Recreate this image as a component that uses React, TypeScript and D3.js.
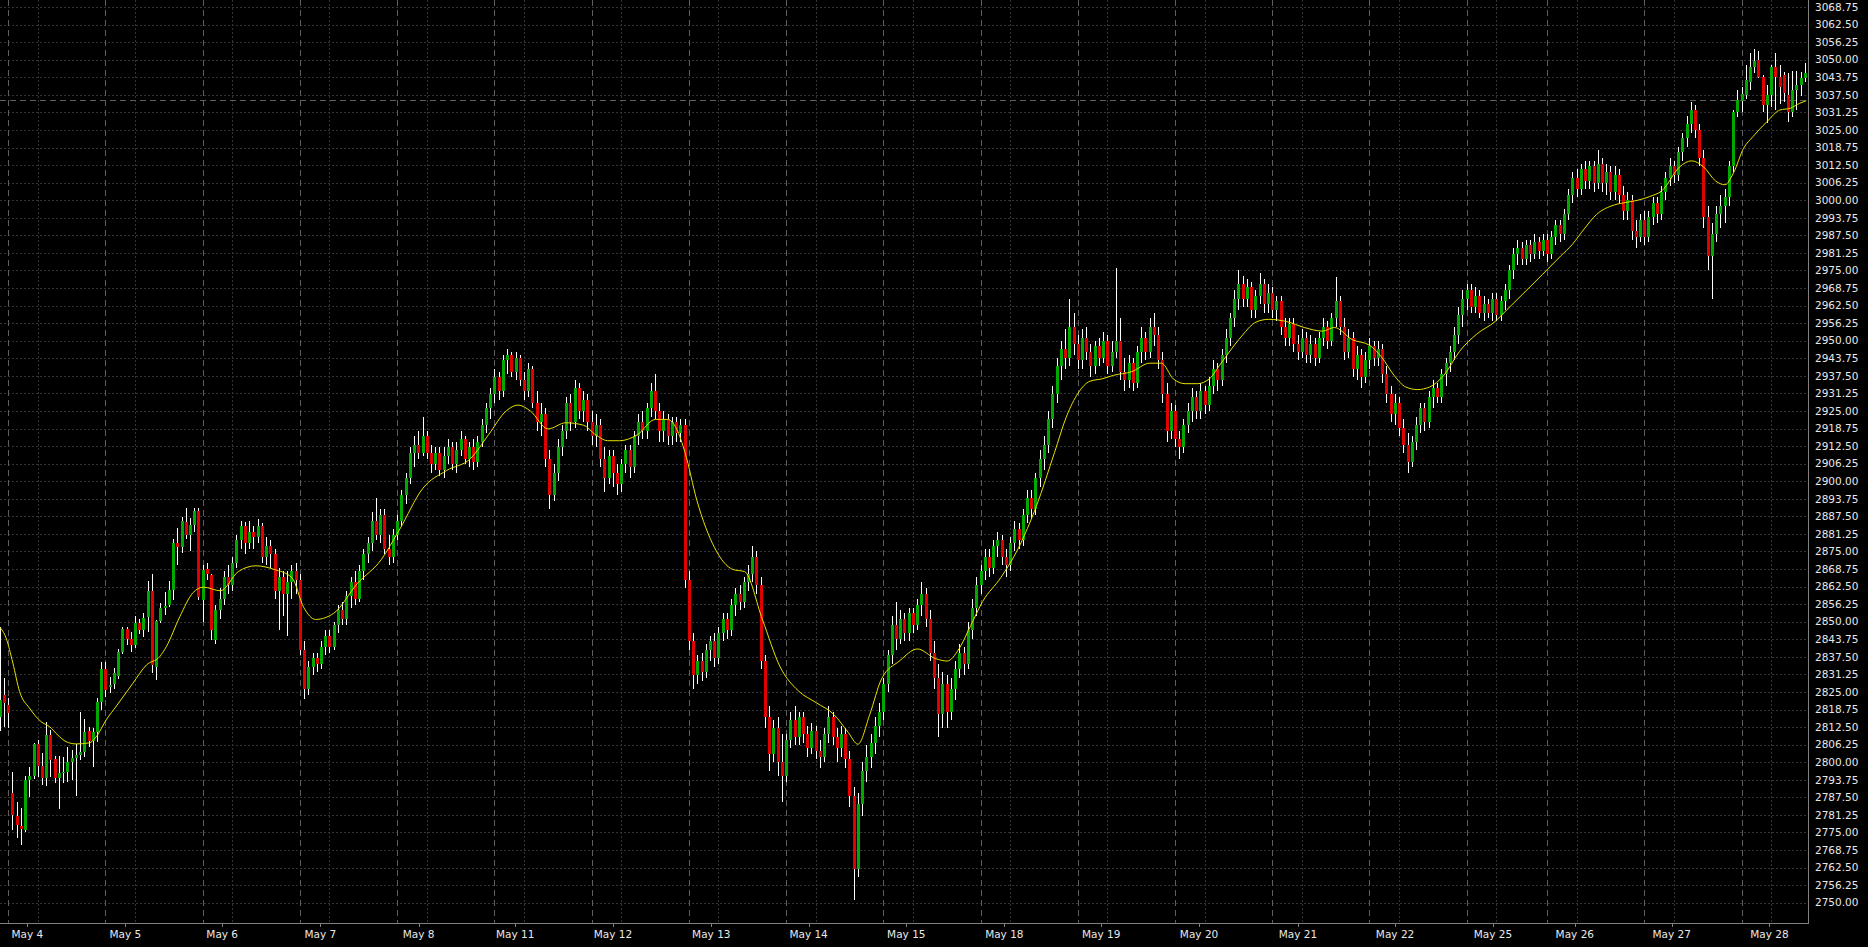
import React, { useEffect } from 'react';
import * as d3 from 'd3';

const dayLabels = ['May 4','May 5','May 6','May 7','May 8','May 11','May 12','May 13','May 14','May 15','May 18','May 19','May 20','May 21','May 22','May 25','May 26','May 27','May 28'];
const dayStartBars = [0,23,46,69,92,115,138,161,184,207,230,253,276,299,322,345,364,387,410];
const labelBars = [4.52,27.70,50.62,73.83,97.07,119.93,143.04,166.32,189.33,212.44,235.63,258.55,281.69,305.10,328.05,351.22,370.57,393.49,416.61];
const gridOffsetBars = 7;
const priceTicks = [2750.00,2756.25,2762.50,2768.75,2775.00,2781.25,2787.50,2793.75,2800.00,2806.25,2812.50,2818.75,2825.00,2831.25,2837.50,2843.75,2850.00,2856.25,2862.50,2868.75,2875.00,2881.25,2887.50,2893.75,2900.00,2906.25,2912.50,2918.75,2925.00,2931.25,2937.50,2943.75,2950.00,2956.25,2962.50,2968.75,2975.00,2981.25,2987.50,2993.75,3000.00,3006.25,3012.50,3018.75,3025.00,3031.25,3037.50,3043.75,3050.00,3056.25,3062.50,3068.75];
const levelPrice = 3035.55;

const firstBarIndex = -2;
const opens = [
  2816,2824,2820.5,2789,2781,2777.3,2776,2793.7,2795,2806.5,2798.6,2794.4,2809.7,2801,2794.4,2796.2,2796.5,2800.1,2801.5,2802.6,2803.6,2811,2807.5,2810.7,2821.4,
  2833.2,2826.6,2827.8,2830.8,2839.3,2847.3,2844,2841.7,2849.4,2847.1,2851.8,2860.9,2834,2850.3,2855,2856,2861.3,2877.9,2876.7,2885.6,2880.8,2884.4,2889.4,
  2857.7,2868.6,2866.6,2843.5,2854,2858,2866,2863,2871,2879,2884,2878,2882,2880,2884,2873,2877,2874,2861,2866,2860,2864,2868,
  2865,2840,2826,2834,2837,2835,2841,2845,2841,2849,2854,2851,2859,2864,2858,2868,2874,2878,2886,2881,2888,2876,2873,
  2881,2886,2895,2901,2910,2913,2910,2916,2910,2906,2910,2904,2909,2912,2906,2911,2915,2908,2912,2907,2914,2920,2926,
  2931,2937,2932,2943,2945,2939,2944,2936,2932,2940,2928,2921,2924,2908,2895,2903,2912,2918,2928,2921,2933,2925,2929,
  2921,2916,2920,2908,2901,2909,2903,2899,2906,2911,2905,2916,2921,2918,2926,2932,2925,2918,2922,2916,2921,2917,2920,
  2865,2843,2831,2836,2832,2840,2843,2837,2846,2851,2847,2856,2860,2857,2864,2867,2873,2863,2836,2816,2803,2812,2800,
  2795,2808,2815,2809,2816,2810,2805,2811,2804,2802,2810,2816,2809,2805,2810,2801,2788,2762,2785,2797,2802,2807,2813,
  2818,2828,2838,2849,2844,2851,2846,2853,2849,2856,2860,2851,2839,2830,2817,2828,2818,2826,2833,2839,2835,2847,2855,
  2863,2868,2873,2869,2877,2879,2873,2870,2878,2883,2879,2888,2894,2890,2901,2908,2913,2922,2931,2941,2947,2944,2955,
  2949,2943,2951,2946,2941,2948,2944,2950,2941,2946,2950,2939,2936,2942,2935,2946,2951,2946,2955,2952,2943,2931,2918,
  2925,2915,2912,2920,2925,2930,2925,2932,2927,2934,2940,2936,2945,2951,2958,2965,2970,2965,2969,2961,2966,2970,2963,
  2967,2961,2964,2955,2951,2956,2949,2946,2951,2945,2949,2944,2951,2955,2950,2958,2964,2955,2946,2951,2940,2945,2937,
  2943,2948,2944,2947,2938,2931,2924,2928,2919,2913,2907,2914,2920,2926,2921,2930,2933,2930,2938,2942,2946,2952,2959,
  2965,2968,2962,2966,2960,2963,2960,2965,2959,2964,2968,2975,2981,2983,2979,2984,2981,2985,2982,
  2986,2981,2987,2991,2988,2995,3002,3008,3004,3011,3007,3012,3006,3013,3006,3010,3003,3009,3002,2996,3000,2989,2987,
  2993,2987,2994,2999,2995,3003,3008,3012,3009,3017,3022,3027,3032,3025,3015,2994,2980,2988,2995,2998,3001,3012,3031.5,
  3035.4,3037.4,3042.2,3047.5,3049.9,3044,3033.9,3037.4,3047.5,3044,3044.6,3037.4,3031.5,3039.2,3040.9,3043.6
];
const highs = [
  2848,2830,2823,2796.5,2785.9,2783.7,2795.1,2798.4,2807,2807.9,2803.3,2814.4,2811.5,2802.2,2802.2,2801.9,2805.5,2804.3,2806.5,2817.7,2815.4,2812.6,2812.2,2822.7,2835.8,
  2835.8,2830.4,2833.5,2840.4,2848.2,2848.2,2846.4,2852,2851,2853,2864.6,2866.8,2850.6,2856.6,2860.5,2864.4,2879.5,2883.5,2887.4,2890.5,2887,2890.5,2890.5,
  2870,2871,2867,2856,2862,2868,2870,2873,2881,2886,2885.5,2886,2884,2886.5,2885,2880,2879,2876,2869,2868,2868,2870,2871,
  2867,2843,2836,2839,2839,2843,2847,2847,2850,2856,2857,2861,2866,2868,2870,2876,2880,2889,2894,2890,2890,2881,2883,
  2888,2897,2903,2912,2916,2918,2923,2918,2913,2912,2912,2912,2915,2914,2914,2918,2916,2914,2915,2916,2922,2928,2933,
  2940,2939,2945,2947,2946,2946,2945,2939,2942,2941,2932,2928,2926,2911,2906,2915,2920,2930,2931,2936,2935,2932,2931,
  2925,2924,2922,2912,2911,2911,2906,2908,2913,2913,2918,2924,2925,2928,2935,2938,2928,2925,2924,2923,2923,2922,2922,
  2868,2846,2838,2839,2842,2845,2846,2848,2853,2853,2858,2862,2863,2866,2870,2877,2875,2866,2838,2820,2815,2816,2810,
  2810,2818,2820,2818,2818,2813,2814,2813,2808,2812,2820,2818,2812,2813,2812,2804,2791,2789,2800,2806,2810,2816,2821,
  2830,2840,2852,2857,2854,2853,2855,2855,2858,2864,2862,2854,2843,2835,2832,2831,2830,2836,2842,2841,2850,2858,2866,
  2870,2876,2876,2879,2882,2881,2876,2880,2886,2885,2890,2897,2897,2903,2911,2916,2925,2934,2944,2950,2954,2965,2960,
  2952,2954,2955,2949,2950,2951,2953,2952,2950,2976,2958,2944,2945,2944,2948,2955,2953,2958,2960,2955,2946,2935,2928,
  2927,2918,2922,2928,2933,2932,2935,2934,2937,2943,2942,2947,2954,2960,2968,2975,2973,2972,2971,2968,2974,2972,2970,
  2969,2966,2966,2958,2958,2958,2952,2954,2953,2952,2951,2953,2958,2957,2960,2972.5,2966,2958,2954,2953,2948,2947,2946,
  2951,2950,2950,2949,2941,2934,2931,2930,2922,2917,2916,2923,2928,2928,2932,2936,2935,2940,2944,2948,2955,2962,2968,
  2970,2970,2969,2968,2966,2965,2967,2967,2966,2970,2977,2983,2986,2985,2986,2986,2988,2987,2988,
  2988,2989,2993,2993,2997,3004,3010,3011,3013,3014,3014,3014,3018,3015,3013,3012,3012,3011,3005,3003,3002,2993,2995,
  2996,2996,3001,3001,3005,3010,3015,3014,3019,3024,3030,3035,3034,3027,3018,2998,2992,2998,3002,3004,3014,3032,3039.2,
  3040.4,3048.1,3052.3,3053.7,3053.1,3044.6,3041,3048.1,3052.3,3048.1,3045.5,3045.3,3045.8,3045.8,3045.5,3048.7
];
const lows = [
  2811,2812.5,2812,2775.9,2773,2770.5,2775.3,2787.7,2794,2794.9,2791.9,2791.6,2794.9,2792.5,2783.4,2792.5,2793.1,2793.7,2788.1,2800.8,2801.9,2805.5,2798.3,2807.3,2818.6,
  2823.2,2824.5,2826,2829.5,2838.5,2841.7,2839.1,2840.6,2845.6,2844.5,2846.3,2831.6,2829.4,2849.4,2852.4,2855.2,2857.6,2870.1,2874.3,2879.5,2875.2,2882,2857.6,
  2850,2865,2843.5,2842,2851,2856,2860,2861,2869,2876,2874,2876,2876,2878,2871,2870,2869,2858,2847,2852,2845,2858,2860,
  2838,2822.5,2824,2831,2832,2833,2838,2839,2840,2846,2849,2849,2855,2856,2857,2865,2871,2875,2879,2878,2874,2870,2871,
  2879,2884,2892,2899,2905,2908,2909,2908,2903,2904,2902,2901,2906,2904,2903,2909,2906,2905,2904,2905,2912,2917,2922,
  2928,2929,2930,2938,2937,2936,2934,2929,2930,2926,2918,2916,2905,2890,2893,2900,2909,2915,2918,2919,2922,2921,2918,
  2913,2912,2905,2896,2899,2898,2895,2896,2903,2901,2903,2913,2915,2915,2923,2922,2914,2914,2913,2913,2914,2914,2862,
  2840,2826,2828,2829,2830,2836,2834,2835,2843,2844,2845,2852,2854,2855,2861,2864,2860,2833,2812,2797,2800,2795,2786,
  2793,2805,2806,2806,2807,2802,2803,2801,2798,2800,2807,2806,2800,2802,2798,2784,2751,2759,2781,2793,2798,2803,2809,
  2815,2825,2835,2840,2842,2843,2843,2846,2847,2852,2848,2836,2826,2809,2812,2812,2815,2822,2830,2831,2833,2844,2852,
  2860,2865,2866,2867,2873,2870,2866,2868,2875,2876,2877,2885,2887,2888,2898,2904,2910,2919,2928,2936,2940,2941,2945,
  2940,2940,2943,2937,2938,2941,2942,2938,2939,2944,2936,2932,2933,2932,2933,2942,2943,2944,2948,2940,2928,2914,2915,
  2912,2908,2910,2917,2921,2922,2922,2924,2925,2931,2932,2934,2942,2948,2955,2961,2962,2962,2958,2958,2963,2960,2960,
  2958,2957,2952,2948,2948,2946,2943,2944,2942,2942,2941,2942,2948,2947,2948,2955,2952,2943,2944,2937,2936,2933,2935,
  2940,2941,2941,2935,2928,2921,2920,2916,2910,2903,2905,2911,2917,2918,2919,2926,2928,2928,2934,2939,2943,2949,2955,
  2961,2960,2960,2958,2957,2958,2957,2957,2957,2961,2965,2972,2977,2977,2977,2978,2979,2979,2980,
  2978,2979,2984,2985,2986,2993,2999,3001,3002,3004,3004,3003,3004,3003,3002,3000,3000,2999,2993,2993,2986,2983,2985,
  2984,2985,2991,2992,2993,3000,3005,3006,3007,3014,3019,3024,3022,3012,2990,2975,2965,2985,2990,2992,2998,3010,3029.7,
  3031.5,3036,3039.2,3045.2,3043.4,3031.5,3027.4,3033.3,3032.1,3034.4,3035,3027.9,3029.7,3032.1,3037,3042.2
];
const closes = [
  2822,2821,2817.5,2781.2,2777.6,2776.2,2793.7,2795.1,2806.5,2798.6,2794.4,2809.7,2800.8,2794.4,2796.2,2796.5,2800.1,2801.5,2802.6,2803.6,2810.7,2807.5,2810.7,2821.4,2833.2,
  2825.7,2827.5,2831.6,2839.3,2847.3,2843.8,2841.7,2849.4,2847.1,2851.4,2860.9,2834.6,2850.2,2854.7,2855.7,2861.3,2877.9,2876.7,2885.8,2880.8,2884.4,2889.4,2858.9,
  2868.4,2866.8,2847,2854.1,2858,2866,2863,2871,2879,2884,2878,2882,2880,2884,2873,2877,2874,2861,2866,2860,2864,2868,2865,
  2840,2826,2834,2837,2835,2841,2845,2841,2849,2854,2851,2859,2864,2858,2868,2874,2878,2886,2881,2888,2876,2873,2881,
  2886,2895,2901,2910,2913,2910,2916,2910,2906,2910,2904,2909,2912,2906,2911,2915,2908,2912,2907,2914,2920,2926,2931,
  2937,2932,2943,2945,2939,2944,2936,2932,2940,2928,2921,2924,2908,2895,2903,2912,2918,2928,2921,2933,2925,2929,2921,
  2916,2920,2908,2901,2909,2903,2899,2906,2911,2905,2916,2921,2918,2926,2932,2925,2918,2922,2916,2921,2917,2920,2865,
  2843,2831,2836,2832,2840,2843,2837,2846,2851,2847,2856,2860,2857,2864,2867,2873,2863,2836,2816,2803,2812,2800,2795,
  2808,2815,2809,2816,2810,2805,2811,2804,2802,2810,2816,2809,2805,2810,2801,2788,2762,2785,2797,2802,2807,2813,2818,
  2828,2838,2849,2844,2851,2846,2853,2849,2856,2860,2851,2839,2830,2817,2828,2818,2826,2833,2839,2835,2847,2855,2863,
  2868,2873,2869,2877,2879,2873,2870,2878,2883,2879,2888,2894,2890,2901,2908,2913,2922,2931,2941,2947,2944,2955,2949,
  2943,2951,2946,2941,2948,2944,2950,2941,2946,2950,2939,2936,2942,2935,2946,2951,2946,2955,2952,2943,2931,2918,2925,
  2915,2912,2920,2925,2930,2925,2932,2927,2934,2940,2936,2945,2951,2958,2965,2970,2965,2969,2961,2966,2970,2963,2967,
  2961,2964,2955,2951,2956,2949,2946,2951,2945,2949,2944,2951,2955,2950,2958,2964,2955,2946,2951,2940,2945,2937,2943,
  2948,2944,2947,2938,2931,2924,2928,2919,2913,2907,2914,2920,2926,2921,2930,2933,2930,2938,2942,2946,2952,2959,2965,
  2968,2962,2966,2960,2963,2960,2965,2959,2964,2968,2975,2981,2983,2979,2984,2981,2985,2982,2986,
  2981,2987,2991,2988,2995,3002,3008,3004,3011,3007,3012,3006,3013,3006,3010,3003,3009,3002,2996,3000,2989,2987,2993,
  2987,2994,2999,2995,3003,3008,3012,3009,3017,3022,3027,3032,3025,3015,2994,2980,2988,2995,2998,3001,3012,3031.5,3035.7,
  3037.7,3042.8,3047.5,3049.4,3044,3033.9,3037.4,3047.5,3044,3040.4,3038,3031.5,3039.2,3040.9,3043.6,3045.2
];

const maBars = [-2.06,-0.5,1.1,2.7,5,7.8,9.8,11.7,13.7,16.1,19.2,20.8,23.2,25.6,29.5,32.7,35.8,37.4,40.6,43.7,46.2,50.2,54.4,58.6,62.9,67.1,69.9,72.7,77.0,82.6,88.2,92.5,98.1,103.7,109.4,113.6,117.8,120.6,123.5,127.7,131.9,136.1,139.0,141.8,144.6,148.8,153.1,155.9,158.1,160.1,162.9,167.1,171.4,174.2,178.4,182.6,186.9,191.1,195.3,198.7,201.0,203.8,206.6,210.8,215.1,219.3,222.1,224.9,227.7,230.5,234.8,239.0,243.2,247.5,250.3,253.1,255.9,258.7,261.5,265.8,270.0,272.8,275.6,278.4,281.3,284.1,286.9,291.1,295.4,298.2,302.4,306.6,310.9,313.7,317.9,322.1,324.9,327.8,330.6,333.4,336.2,339.6,343.3,347.5,351.7,354.5,358.8,363.0,367.2,370.0,372.8,375.7,379.9,382.7,385.5,388.3,391.2,395.4,398.2,401.0,403.9,406.1,408.1,410.5,412.7,416.0,419.1,421.5,423.8,425.3];
const maValues = [2848.2,2844.2,2835.3,2825.1,2819.3,2814.4,2812.6,2809.7,2807.3,2806.5,2806.9,2809,2815.1,2820,2828.1,2834.6,2837.5,2841.1,2851.8,2860.3,2862.3,2861.0,2867.8,2869.9,2868.6,2865.7,2855.1,2850.8,2853.0,2863.6,2872.0,2882.6,2897.5,2903.8,2908.1,2916.5,2925.0,2927.1,2925.0,2918.6,2920.8,2919.9,2916.5,2914.4,2914.4,2916.5,2922.0,2922.0,2918.6,2910.2,2893.2,2876.3,2868.6,2867.8,2850.8,2833.9,2825.4,2821.2,2817.0,2810.6,2806.4,2817.0,2829.7,2836.0,2840.3,2836.9,2836.0,2840.3,2848.7,2857.2,2865.7,2876.3,2891.1,2910.2,2922.9,2931.4,2935.6,2936.4,2937.7,2939.0,2942.0,2942.0,2936.4,2934.7,2934.7,2936.4,2942.0,2950.4,2956.8,2957.6,2956.8,2954.7,2953.4,2954.7,2950.4,2948.3,2944.1,2937.7,2933.5,2932.6,2933.5,2937.7,2946.2,2952.5,2956.8,2961.0,2967.4,2973.7,2980.1,2984.3,2989.8,2994.9,2998.3,2999.2,3000.0,3001.3,3003.4,3011.9,3014.0,3011.9,3006.8,3005.5,3009.7,3018.5,3022.6,3027.9,3032.1,3032.7,3034.5,3035.4];

const W = 1868, H = 947;
const plotRight = 1808, plotBottom = 923;
const BULL = '#00a800', BEAR = '#e00000', WICK = '#ffffff', MA = '#e8e000';
const GRID = '#333333', SEP = '#5e5e5e', AXIS = '#808080', TEXT = '#e8e8e8';

export default function App() {
  useEffect(() => {
    document.body.style.margin = '0';
    document.body.style.background = '#000';
  }, []);

  const x = d3.scaleLinear().domain([0, 410]).range([8.2, 1741.5]);
  const y = d3.scaleLinear().domain([2750, 3068.75]).range([902.7, 7]);
  const n = Math.min(opens.length, highs.length, lows.length, closes.length);
  const bars = d3.range(n).map(k => ({ i: firstBarIndex + k, o: opens[k], h: highs[k], l: lows[k], c: closes[k] }));
  const maLine = d3.line<number>()
    .x((_, k) => x(maBars[k]))
    .y(d => y(d))
    .curve(d3.curveMonotoneX);
  const crisp = (v: number) => Math.round(v) + 0.5;
  const font = "'DejaVu Sans', Verdana, sans-serif";

  return (
    <svg width={W} height={H} style={{ position: 'absolute', left: 0, top: 0, display: 'block', background: '#000' }}>
      <rect x={0} y={0} width={W} height={H} fill="#000" />
      <defs>
        <clipPath id="plotClip">
          <rect x={0} y={0} width={plotRight} height={plotBottom} />
        </clipPath>
      </defs>
      <g shapeRendering="crispEdges">
        {priceTicks.map(p => (
          <line key={'h' + p} x1={0} x2={plotRight} y1={crisp(y(p))} y2={crisp(y(p))} stroke={GRID} strokeDasharray="2,2" />
        ))}
        {dayStartBars.map(b => (
          <line key={'g' + b} x1={crisp(x(b + gridOffsetBars))} x2={crisp(x(b + gridOffsetBars))} y1={0} y2={plotBottom} stroke={GRID} strokeDasharray="2,2" />
        ))}
        {dayStartBars.map(b => (
          <line key={'s' + b} x1={crisp(x(b))} x2={crisp(x(b))} y1={0} y2={plotBottom} stroke={SEP} strokeDasharray="6,4" />
        ))}
        <line x1={0} x2={plotRight} y1={crisp(y(levelPrice))} y2={crisp(y(levelPrice))} stroke={SEP} strokeDasharray="6,4" />
      </g>
      <g clipPath="url(#plotClip)">
        <g shapeRendering="crispEdges">
          {bars.map(b => {
            const cx = Math.round(x(b.i));
            const yo = Math.round(y(b.o)), yc = Math.round(y(b.c));
            const top = Math.min(yo, yc), bot = Math.max(yo, yc);
            return (
              <g key={b.i}>
                <line x1={cx + 0.5} x2={cx + 0.5} y1={Math.round(y(b.h))} y2={Math.round(y(b.l))} stroke={WICK} />
                <rect x={cx - 1} y={top} width={3} height={Math.max(1, bot - top)} fill={b.c >= b.o ? BULL : BEAR} />
              </g>
            );
          })}
        </g>
        <path d={maLine(maValues) || ''} fill="none" stroke={MA} strokeWidth={1} />
      </g>
      <g shapeRendering="crispEdges">
        <line x1={0} x2={plotRight + 0.5} y1={plotBottom + 0.5} y2={plotBottom + 0.5} stroke={AXIS} />
        <line x1={plotRight + 0.5} x2={plotRight + 0.5} y1={0} y2={plotBottom + 0.5} stroke={AXIS} />
        {labelBars.map((lb, k) => (
          <line key={'t' + k} x1={crisp(x(lb))} x2={crisp(x(lb))} y1={plotBottom} y2={plotBottom + 4} stroke={AXIS} />
        ))}
      </g>
      {labelBars.map((lb, k) => (
        <text key={'l' + k} x={x(lb)} y={937.5} fill={TEXT} fontFamily={font} fontSize={10.5} textAnchor="middle">{dayLabels[k]}</text>
      ))}
      {priceTicks.map(p => (
        <text key={'p' + p} x={1815} y={y(p)} dy="0.36em" fill={TEXT} fontFamily={font} fontSize={10.5}>{p.toFixed(2)}</text>
      ))}
    </svg>
  );
}
